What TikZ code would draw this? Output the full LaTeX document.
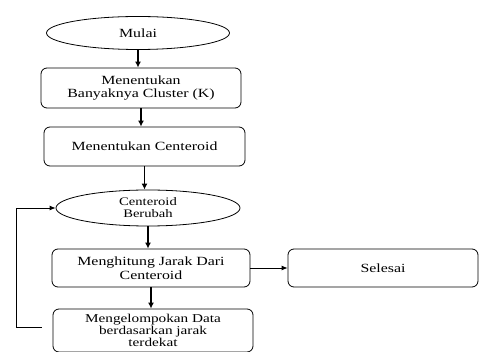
\documentclass[tikz,border=0pt]{standalone}
\usepackage{fontspec}
\setmainfont{Liberation Serif}[FakeStretch=1.27]
\usetikzlibrary{shapes.geometric,arrows.meta}
\begin{document}
\begin{tikzpicture}[x=1pt,y=-1pt,
proses/.style={draw,thick,rounded corners=6pt,align=center,inner sep=2pt,
  font=\fontsize{12.5}{13.5}\selectfont},
terminal/.style={draw,thick,ellipse,align=center,inner sep=1pt,
  font=\fontsize{12.5}{13.5}\selectfont},
panah/.style={-{Latex[length=6pt,width=6pt]},line width=1.4pt}]
\useasboundingbox (0,0) rectangle (479,352);
\node[terminal,minimum width=183,minimum height=33] (mulai) at (138,33) {Mulai};
\node[proses,minimum width=200,minimum height=40] (cluster) at (141,88) {Menentukan\\Banyaknya Cluster (K)};
\node[proses,minimum width=201,minimum height=39] (centroid) at (144.5,146.5) {Menentukan Centeroid};
\node[terminal,minimum width=184,minimum height=36,inner sep=0pt,font=\fontsize{11.5}{12}\selectfont] (berubah) at (148,208) {Centeroid\\Berubah};
\node[proses,minimum width=198,minimum height=38] (jarak) at (151,268) {Menghitung Jarak Dari\\Centeroid};
\node[proses,minimum width=190,minimum height=38] (selesai) at (383,268) {Selesai};
\node[proses,minimum width=200,minimum height=43,inner sep=1pt,font=\fontsize{12}{12}\selectfont] (kelompok) at (153,330.5) {Mengelompokan Data\\berdasarkan jarak\\terdekat};

\draw[panah] (mulai.south) -- (mulai.south |- cluster.north);
\draw[panah] (cluster.south) -- (cluster.south |- centroid.north);
\draw[panah] (centroid.south) -- (centroid.south |- berubah.north);
\draw[panah] (berubah.south) -- (berubah.south |- jarak.north);
\draw[panah] (jarak.south) -- (jarak.south |- kelompok.north);
\draw[-{Latex[length=6pt,width=5pt]},thick] (jarak.east) -- (selesai.west);
\coordinate (ujung) at ([xshift=-11,yshift=3]kelompok.west);
\draw[-{Latex[length=6pt,width=5pt]},thick] (ujung) -- ++(-25,0) |- (berubah.west);

\end{tikzpicture}
\end{document}
